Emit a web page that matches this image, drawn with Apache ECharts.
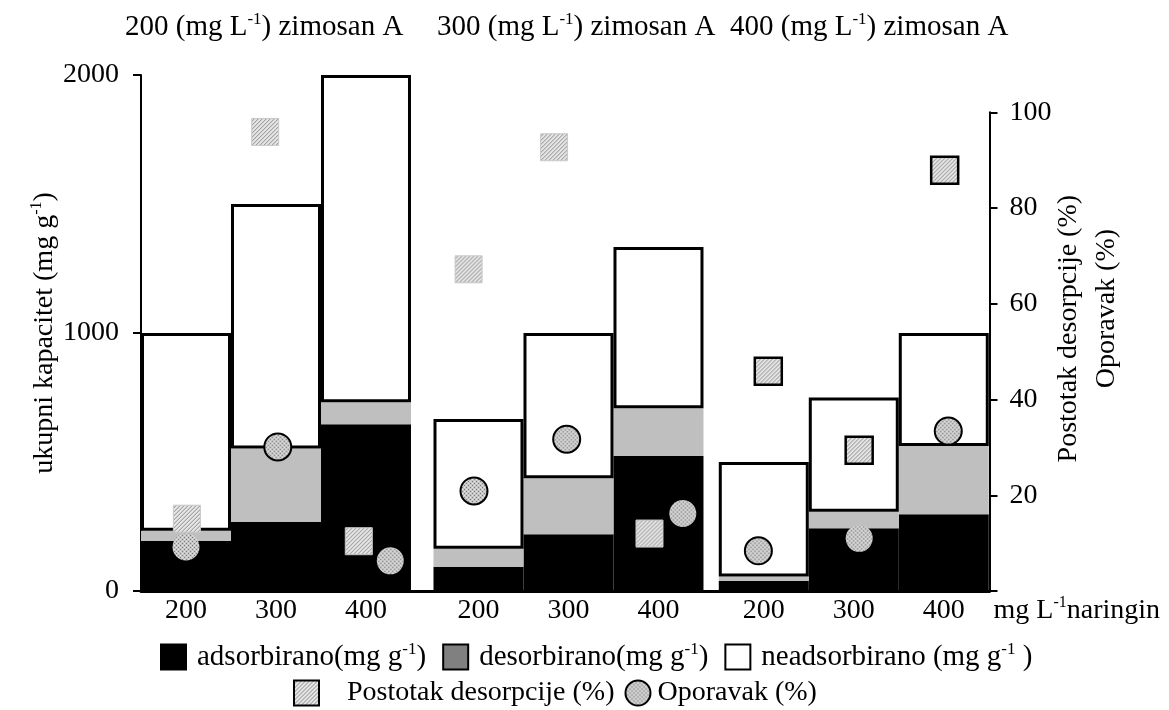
<!DOCTYPE html>
<html><head><meta charset="utf-8">
<script src="https://cdn.jsdelivr.net/npm/echarts@6/dist/echarts.min.js"></script>
<style>html,body{margin:0;padding:0;background:#fff}#c{width:1169px;height:710px}</style>
</head><body><div id="c"></div>
<script>
// ---------- data ----------
const zymosanGroups = ['200', '300', '400'];          // mg/L zimosan A (one group each)
const naringinLevels = ['200', '300', '400'];         // mg/L naringin (bars inside each group)
const adsorbed    = [194, 268, 646,  94, 220, 523,  40, 243, 297];   // mg/g
const desorbed    = [ 40, 284,  86,  70, 217, 185,  16,  64, 265];   // mg/g
const notAdsorbed = [766, 948, 1268, 503, 563, 625, 444, 443, 438];  // mg/g
const desorptionPct = [15.1, 95.9, 10.4, 67.2, 92.7, 12.0, 45.9, 29.4, 87.9];
const recoveryPct   = [ 9.2, 30.1,  6.3, 20.9, 31.7, 16.2,  8.4, 11.0, 33.4];
// read x-offset of the markers inside their bar (in bar widths)
const squareShift = [0.01, -0.12, -0.08, -0.11, -0.16, -0.10, 0.05, 0.06, 0.01];
const circleShift = [0.00,  0.02,  0.27, -0.05, -0.02,  0.27, -0.06, 0.06, 0.05];
// ---------- styling lookups ----------
const squareOutlined = [0,0,0, 0,0,0, 1,1,1];
const circleOutlined = [0,1,0, 1,1,0, 1,0,1];

const FONT = 'Liberation Serif';
const FS = 28;
const W = 1169, GL = 141, GR = 179.5, GT = 75, GB = 119, GT2 = 112.3;
const GAPS = [0.25, 0.17];
const X_MAX = 9.428;
const SYM = 27;
const groupStart = [0, 3 + GAPS[0], 6 + GAPS[0] + GAPS[1]];
const xPos = k => groupStart[Math.floor(k / 3)] + (k % 3) + 0.5;
const unitPx = (W - GL - GR) / X_MAX;
const barX = adsorbed.map((_, k) => xPos(k));

function hatch() {
  const c = document.createElement('canvas'); c.width = 4; c.height = 4;
  const g = c.getContext('2d');
  g.fillStyle = '#e6e6e6'; g.fillRect(0, 0, 4, 4);
  g.strokeStyle = '#8a8a8a'; g.lineWidth = 1;
  g.beginPath();
  g.moveTo(0, 4); g.lineTo(4, 0);
  g.moveTo(-1, 1); g.lineTo(1, -1);
  g.moveTo(3, 5); g.lineTo(5, 3);
  g.stroke();
  return c;
}
function dots() {
  const c = document.createElement('canvas'); c.width = 4; c.height = 4;
  const g = c.getContext('2d');
  g.fillStyle = '#c6c6c6'; g.fillRect(0, 0, 4, 4);
  g.fillStyle = '#7c7c7c'; g.fillRect(0, 0, 1, 1); g.fillRect(2, 2, 1, 1);
  g.fillStyle = '#e4e4e4'; g.fillRect(2, 0, 1, 1); g.fillRect(0, 2, 1, 1);
  return c;
}
const hatchCanvas = hatch(), dotCanvas = dots();
// symbols are drawn at unit size and scaled by SYM/2, so scale the pattern back
const hatchSym = { image: hatchCanvas, repeat: 'repeat', scaleX: 2 / SYM, scaleY: 2 / SYM };
const dotSym = { image: dotCanvas, repeat: 'repeat', scaleX: 2 / SYM, scaleY: 2 / SYM };
const hatchIcon = { image: hatchCanvas, repeat: 'repeat' };
const dotIcon = { image: dotCanvas, repeat: 'repeat' };

const mkText = (fs, lh) => ({ fontFamily: FONT, fontSize: fs, color: '#000', fontWeight: 'normal', lineHeight: lh });
const mkRich = (fs, lh) => ({
  t: { fontFamily: FONT, fontSize: fs, color: '#000', lineHeight: lh },
  sup: { fontFamily: FONT, fontSize: Math.round(fs * 0.58), color: '#000', lineHeight: Math.round(fs * 0.58), verticalAlign: 'top' }
});

const chart = echarts.init(document.getElementById('c'));

const barSeries = (name, vals, style) => ({
  name, type: 'bar', stack: 'cap', xAxisIndex: 0, yAxisIndex: 0,
  barWidth: unitPx, encode: { x: 1, y: 0 },
  data: vals.map((v, k) => [v, barX[k]]),
  itemStyle: style, emphasis: { disabled: true }
});

const legendNames = {
  adsorbirano: '{t|adsorbirano(mg g}{sup|-1}{t|)}',
  desorbirano: '{t|desorbirano(mg g}{sup|-1}{t|)}',
  neadsorbirano: '{t|neadsorbirano (mg g}{sup|-1}{t| )}',
  'Postotak desorpcije (%)': '{t|Postotak desorpcije (%)}',
  'Oporavak (%)': '{t|Oporavak (%)}'
};

const titleText = z => `{t|${z} (mg L}{sup|-1}{t|) zimosan A}`;
const titleLefts = [125, 437, 730];
const TFS = 29, LFS = 29;

chart.setOption({
  animation: false,
  backgroundColor: '#fff',
  title: zymosanGroups.map((z, i) => ({
    text: titleText(z), left: titleLefts[i], top: 11, padding: 0,
    textStyle: Object.assign(mkText(TFS, 33), { rich: mkRich(TFS, 33) })
  })),
  grid: [
    { left: GL, right: GR, top: GT, bottom: GB },
    { left: GL, right: GR, top: GT2, bottom: GB }
  ],
  xAxis: [
    {
      type: 'value', gridIndex: 0, min: 0, max: X_MAX,
      axisLine: { lineStyle: { color: '#000', width: 3 } },
      axisTick: { show: false }, splitLine: { show: false },
      axisLabel: {
        customValues: barX,
        formatter: v => { const k = barX.findIndex(x => Math.abs(x - v) < 1e-6); return k < 0 ? '' : naringinLevels[k % 3]; },
        fontFamily: FONT, fontSize: FS, color: '#000', margin: 6
      },
      name: '{t|mg L}{sup|-1}{t|naringin}', nameLocation: 'end', nameGap: 4,
      nameTextStyle: Object.assign(mkText(FS, 32), { rich: mkRich(FS, 32), verticalAlign: 'top', padding: [4, 0, 0, 0] })
    },
    { type: 'value', gridIndex: 1, min: 0, max: X_MAX, show: false }
  ],
  yAxis: [
    {
      type: 'value', gridIndex: 0, min: 0, max: 2000, interval: 1000,
      axisLine: { show: true, onZero: false, lineStyle: { color: '#000', width: 2 } },
      axisTick: { show: true, length: 8, lineStyle: { color: '#000', width: 2 } },
      splitLine: { show: false },
      axisLabel: { fontFamily: FONT, fontSize: FS, color: '#000', margin: 22, formatter: v => String(v) },
      name: '{t|ukupni kapacitet (mg g}{sup|-1}{t|)}', nameLocation: 'middle', nameRotate: 90, nameGap: 80,
      nameMoveOverlap: false,
      nameTextStyle: Object.assign(mkText(FS, 32), { rich: mkRich(FS, 32) })
    },
    {
      type: 'value', gridIndex: 1, position: 'right', min: 0, max: 100, interval: 20,
      axisLine: { show: true, onZero: false, lineStyle: { color: '#000', width: 2 } },
      axisTick: { show: true, length: 8, lineStyle: { color: '#000', width: 2 } },
      splitLine: { show: false },
      axisLabel: { fontFamily: FONT, fontSize: FS, color: '#000', margin: 20, formatter: v => v === 0 ? '' : String(v) },
      name: '{p|Postotak desorpcije (%)}\n{o|Oporavak (%)}', nameLocation: 'middle', nameRotate: 90, nameGap: 60,
      nameMoveOverlap: false,
      nameTextStyle: {
        fontFamily: FONT, fontSize: FS, color: '#000', lineHeight: 38, padding: [0, 0, 0, 46],
        rich: {
          p: { fontFamily: FONT, fontSize: FS, color: '#000', lineHeight: 38 },
          o: { fontFamily: FONT, fontSize: FS, color: '#000', lineHeight: 38, padding: [0, 0, 0, 40] }
        }
      }
    }
  ],
  legend: [
    {
      left: 160, top: 641, padding: 0, itemWidth: 25, itemHeight: 25, itemGap: 16, icon: 'rect', selectedMode: false,
      formatter: n => legendNames[n], textStyle: Object.assign(mkText(LFS, 32), { rich: mkRich(LFS, 32), padding: [0, 0, 0, 6] }),
      data: [
        { name: 'adsorbirano', itemStyle: { color: '#000', borderColor: '#000', borderWidth: 2 } },
        { name: 'desorbirano', itemStyle: { color: '#808080', borderColor: '#000', borderWidth: 2 } },
        { name: 'neadsorbirano', itemStyle: { color: '#fff', borderColor: '#000', borderWidth: 2 } }
      ]
    },
    {
      left: 293, top: 677, padding: 0, itemWidth: 25, itemHeight: 25, itemGap: 10, selectedMode: false,
      formatter: n => legendNames[n], textStyle: Object.assign(mkText(FS, 32), { rich: mkRich(FS, 32) }),
      data: [
        { name: 'Postotak desorpcije (%)', icon: 'rect', itemStyle: { color: hatchIcon, borderColor: '#000', borderWidth: 2 },
          textStyle: { padding: [0, 0, 0, 23] } },
        { name: 'Oporavak (%)', icon: 'circle', itemStyle: { color: dotIcon, borderColor: '#000', borderWidth: 2 },
          textStyle: { padding: [0, 0, 0, 2] } }
      ]
    }
  ],
  series: [
    barSeries('adsorbirano', adsorbed, { color: '#000' }),
    barSeries('desorbirano', desorbed, { color: '#bfbfbf' }),
    barSeries('neadsorbirano', notAdsorbed, { color: '#fff', borderColor: '#000', borderWidth: 3 }),
    {
      name: 'Postotak desorpcije (%)', type: 'scatter', xAxisIndex: 1, yAxisIndex: 1,
      symbol: 'rect', symbolSize: SYM, z: 5,
      itemStyle: { color: hatchSym, borderColor: '#000', borderWidth: 2.5, opacity: 1 },
      data: desorptionPct.map((v, k) => ({
        value: [barX[k] + squareShift[k], v],
        itemStyle: squareOutlined[k] ? { borderColor: '#000', borderWidth: 2.5 } : { borderColor: '#c8c8c8', borderWidth: 1 }
      })),
      emphasis: { disabled: true }
    },
    {
      name: 'Oporavak (%)', type: 'scatter', xAxisIndex: 1, yAxisIndex: 1,
      symbol: 'circle', symbolSize: SYM, z: 5,
      itemStyle: { color: dotSym, borderColor: '#000', borderWidth: 2, opacity: 1 },
      data: recoveryPct.map((v, k) => ({
        value: [barX[k] + circleShift[k], v],
        itemStyle: circleOutlined[k] ? { borderColor: '#000', borderWidth: 2 } : { borderColor: '#c6c6c6', borderWidth: 0 }
      })),
      emphasis: { disabled: true }
    }
  ]
});
</script>
</body></html>
